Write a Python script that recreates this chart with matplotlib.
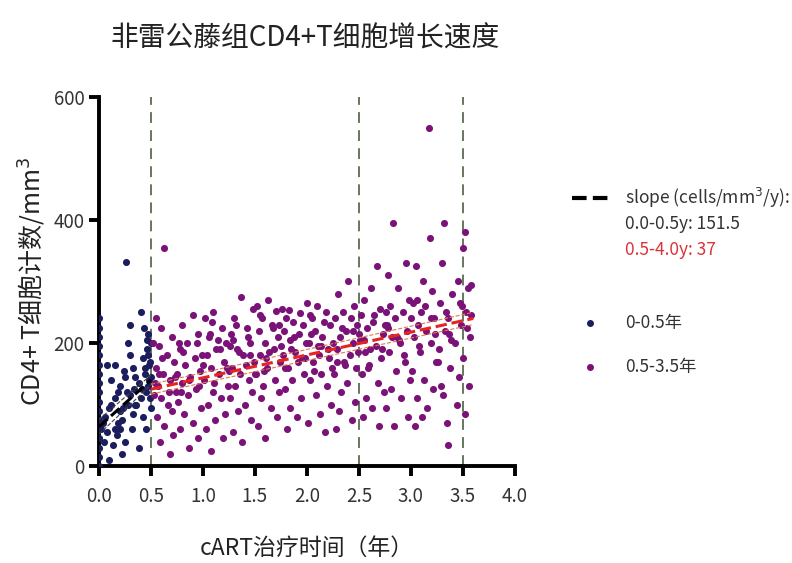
#!/usr/bin/env python3
# plot.py - CD4+ T cell growth scatter with segmented slopes

import matplotlib
matplotlib.use("Agg")
import matplotlib.pyplot as plt
from matplotlib.lines import Line2D
import numpy as np

plt.rcParams["font.family"] = ["Noto Sans CJK SC", "DejaVu Sans"]

# 0-0.5 year group (x = years on cART, y = CD4+ count)
early_x = [0, 0, 0, 0, 0, 0, 0, 0, 0, 0, 0, 0, 0, 0, 0, 0, 0,
           0.02, 0.04, 0.06, 0.08, 0.10, 0.12, 0.12, 0.15, 0.15, 0.17,
           0.18, 0.20, 0.20, 0.22, 0.22, 0.24, 0.25, 0.26, 0.28, 0.28,
           0.30, 0.30, 0.32, 0.33, 0.35, 0.35, 0.38, 0.40, 0.40, 0.42,
           0.42, 0.44, 0.45, 0.46, 0.47, 0.48, 0.48, 0.50, 0.50, 0.50,
           0.45, 0.38, 0.10, 0.05, 0.15, 0.25, 0.43, 0.30, 0.36, 0.20,
           0.23, 0.47, 0.49, 0.33, 0.08, 0.27, 0.46, 0.44, 0.41, 0.18,
           0.13, 0.34, 0.49, 0.47]
early_y = [0, 15, 30, 45, 60, 75, 90, 105, 120, 135, 150, 165, 180, 195,
           210, 225, 240,
           60, 70, 80, 165, 95, 100, 140, 110, 60, 50,
           120, 90, 130, 75, 20, 155, 40, 332, 100, 200,
           115, 230, 60, 160, 145, 100, 135, 250, 110, 80,
           175, 150, 120, 190, 130, 165, 140, 145, 95, 200,
           60, 30, 10, 40, 165, 145, 225, 180, 100, 60,
           95, 215, 170, 85, 55, 120, 205, 160, 125, 70,
           35, 125, 110, 180]

# 0.5-3.5 year group
late_x = [0.63, 0.55, 0.60, 0.70, 0.58, 0.65, 0.72, 0.55, 0.62, 0.68,
          0.57, 0.74, 0.60, 0.66, 0.70, 0.56, 0.63, 0.71, 0.59, 0.68,
          0.52, 0.73, 0.53,
          0.90, 0.80, 0.95, 0.85, 0.78, 0.92, 0.83, 0.97, 0.88, 0.80,
          0.93, 0.86, 0.76, 0.98, 0.82, 0.90, 0.78, 0.95, 0.87, 0.99, 0.79,
          1.10, 1.02, 1.18, 1.06, 1.22, 1.13, 1.04, 1.20, 1.08, 1.15,
          1.01, 1.24, 1.10, 1.17, 1.05, 1.21, 1.12, 1.03, 1.19, 1.08,
          1.23, 1.14,
          1.37, 1.48, 1.30, 1.42, 1.27, 1.45, 1.33, 1.39, 1.49, 1.28,
          1.36, 1.44, 1.31, 1.47, 1.26, 1.40, 1.34, 1.46, 1.29, 1.38,
          1.41, 1.26,
          1.63, 1.52, 1.70, 1.57, 1.66, 1.54, 1.72, 1.60, 1.68, 1.55,
          1.74, 1.62, 1.51, 1.69, 1.58, 1.73, 1.56, 1.65, 1.71, 1.53,
          1.60, 1.64,
          1.76, 1.83, 1.93, 1.80, 1.96, 1.78, 1.88, 1.99, 1.85, 1.77,
          1.91, 1.82, 1.97, 1.86, 1.79, 1.94, 1.84, 1.90, 1.81, 1.92, 1.98,
          2.00, 2.10, 2.18, 2.05, 2.22, 2.08, 2.15, 2.02, 2.20, 2.12,
          2.06, 2.24, 2.14, 2.03, 2.19, 2.09, 2.23, 2.13, 2.01, 2.17, 2.11,
          2.40, 2.30, 2.45, 2.35, 2.27, 2.48, 2.38, 2.32, 2.44, 2.29,
          2.41, 2.36, 2.47, 2.26, 2.39, 2.33, 2.46, 2.31, 2.43, 2.28, 2.50,
          2.67, 2.62, 2.55, 2.70, 2.52, 2.64, 2.58, 2.73, 2.51, 2.66,
          2.56, 2.71, 2.60, 2.53, 2.68, 2.74, 2.57, 2.63, 2.54, 2.69, 2.75,
          2.83, 2.95, 2.78, 2.88, 2.98, 2.80, 2.92, 2.85, 2.77, 2.96,
          2.82, 2.90, 2.79, 2.94, 2.86, 2.99, 2.81, 2.91, 2.76, 2.97, 2.84,
          3.17, 3.18, 3.05, 3.12, 3.20, 3.02, 3.10, 3.22, 3.07, 3.15,
          3.03, 3.19, 3.09, 3.24, 3.01, 3.13, 3.21, 3.06, 3.16, 3.11, 3.04,
          3.32, 3.52, 3.50, 3.30, 3.45, 3.55, 3.40, 3.28, 3.53, 3.36,
          3.48, 3.33, 3.57, 3.42, 3.27, 3.50, 3.38, 3.46, 3.56, 3.31,
          3.44, 3.52, 3.35, 3.36, 3.29, 3.58,
          # extra points packed near the trend
          0.54, 0.61, 0.67, 0.75, 0.81, 0.87, 0.94, 1.00, 1.07, 1.11,
          1.16, 1.25, 1.32, 1.35, 1.43, 1.50, 1.55, 1.61, 1.67, 1.75,
          1.79, 1.87, 1.89, 1.95, 2.04, 2.07, 2.16, 2.21, 2.25, 2.34,
          2.37, 2.42, 2.49, 2.55, 2.59, 2.65, 2.72, 2.78, 2.87, 2.93,
          3.00, 3.08, 3.14, 3.23, 3.26, 3.34, 3.39, 3.47, 3.54, 3.58,
          0.58, 0.77, 0.96, 1.09, 1.29, 1.45, 1.59, 1.73, 1.84, 2.03,
          2.14, 2.29, 2.44, 2.61, 2.76, 2.89, 3.06, 3.19, 3.37, 3.49]
late_y = [355, 240, 225, 210, 195, 180, 170, 160, 150, 140,
          130, 120, 110, 100, 90, 80, 65, 50, 40, 20,
          200, 145, 115,
          245, 230, 215, 200, 190, 175, 165, 155, 145, 135,
          125, 115, 105, 95, 85, 70, 60, 45, 30, 180, 120,
          250, 240, 225, 210, 200, 190, 180, 170, 160, 150,
          140, 130, 120, 110, 100, 85, 75, 60, 45, 25,
          160, 205,
          275, 255, 240, 225, 215, 200, 190, 180, 170, 160,
          150, 140, 130, 120, 110, 100, 90, 75, 55, 40,
          165, 195,
          270, 260, 252, 240, 230, 220, 210, 200, 190, 180,
          170, 160, 150, 140, 130, 120, 110, 95, 80, 65,
          45, 185,
          255, 254, 249, 240, 230, 220, 210, 200, 190, 180,
          170, 160, 150, 140, 125, 110, 95, 80, 60, 215, 175,
          265, 260, 250, 240, 230, 220, 210, 200, 190, 180,
          170, 160, 150, 140, 130, 115, 100, 85, 70, 55, 195,
          300, 280, 260, 250, 240, 230, 220, 210, 200, 190,
          180, 170, 160, 150, 135, 120, 105, 90, 75, 60, 215,
          325, 290, 270, 255, 245, 235, 225, 215, 205, 195,
          185, 175, 165, 150, 135, 120, 110, 95, 80, 65, 230,
          395, 330, 310, 290, 270, 260, 250, 240, 230, 220,
          210, 200, 185, 170, 155, 140, 125, 110, 95, 80, 65,
          550, 370, 325, 300, 285, 265, 250, 240, 230, 220,
          210, 200, 185, 170, 155, 140, 125, 110, 95, 80, 65,
          395, 380, 355, 330, 300, 290, 280, 265, 250, 240,
          230, 220, 210, 200, 190, 175, 160, 145, 130, 115,
          100, 85, 70, 35, 130, 295,
          135, 175, 120, 150, 185, 140, 200, 165, 215, 135,
          190, 155, 230, 185, 210, 150, 245, 175, 225, 195,
          160, 235, 185, 175, 215, 155, 235, 175, 200, 225,
          165, 240, 185, 205, 160, 245, 190, 225, 210, 180,
          240, 195, 260, 215, 170, 250, 205, 265, 225, 245,
          150, 200, 130, 235, 205, 180, 155, 230, 205, 245,
          195, 170, 220, 190, 250, 205, 270, 240, 215, 260]

# fitted segments and vertical cut-offs
seg1_x = [0.0, 0.5]
seg1_y = [64, 140]
seg2_x = [0.5, 3.6]
seg2_y = [125, 240]
cut_years = [0.5, 2.5, 3.5]

blue = "#1b1d5c"
purple = "#7a1277"


def plot(ax):
    ax.scatter(early_x, early_y, s=26, color=blue, zorder=3, linewidths=0)
    ax.scatter(late_x, late_y, s=26, color=purple, zorder=3, linewidths=0)

    for c in cut_years:
        ax.axvline(c, ymin=0, ymax=1, color="#5a6b52", linestyle=(0, (6, 4)),
                   linewidth=1.3, zorder=2)

    # confidence bands (thin dashed) and fitted lines
    ax.plot(seg1_x, [seg1_y[0] - 12, seg1_y[1] - 8], color="#444444",
            linestyle="--", linewidth=0.8, zorder=4)
    ax.plot(seg1_x, [seg1_y[0] + 12, seg1_y[1] + 8], color="#444444",
            linestyle="--", linewidth=0.8, zorder=4)
    ax.plot(seg1_x, seg1_y, color="black", linestyle="--", linewidth=2.2,
            zorder=5)
    ax.plot(seg2_x, [seg2_y[0] - 8, seg2_y[1] - 10], color="#e07a4a",
            linestyle="--", linewidth=0.8, zorder=4)
    ax.plot(seg2_x, [seg2_y[0] + 8, seg2_y[1] + 10], color="#e07a4a",
            linestyle="--", linewidth=0.8, zorder=4)
    ax.plot(seg2_x, seg2_y, color="#e8241e", linestyle="--", linewidth=2.2,
            zorder=5)

    ax.set_xlim(0, 4.0)
    ax.set_ylim(0, 600)
    ax.set_xticks(np.arange(0, 4.01, 0.5))
    ax.set_xticklabels([f"{v:.1f}" for v in np.arange(0, 4.01, 0.5)])
    ax.set_yticks([0, 200, 400, 600])
    for side in ["top", "right"]:
        ax.spines[side].set_visible(False)
    for side in ["left", "bottom"]:
        ax.spines[side].set_linewidth(2.8)
    ax.tick_params(width=2.8, length=7, labelsize=13.5, colors="#333333")
    ax.tick_params(axis="x", pad=7)
    ax.tick_params(color="black")
    ax.set_ylabel("CD4+ T细胞计数/mm$^3$", fontsize=18, color="#222222",
                  labelpad=4)
    ax.set_xlabel("cART治疗时间（年）", fontsize=16.5, color="#222222",
                  labelpad=22)


def main():
    fig = plt.figure(figsize=(7.92, 5.63), dpi=100)
    ax = fig.add_axes([0.125, 0.172, 0.525, 0.656])
    plot(ax)

    fig.text(0.385, 0.932, "非雷公藤组CD4+T细胞增长速度", ha="center",
             va="center", fontsize=20, color="#222222")

    # legend drawn by hand
    fig.add_artist(Line2D([0.722, 0.772], [0.649, 0.649], color="black",
                          linestyle=(0, (3.5, 1.5)), linewidth=3))
    fig.text(0.789, 0.649, "slope (cells/mm$^3$/y):", fontsize=12.5,
             va="center", color="#333333")
    fig.text(0.789, 0.603, "0.0-0.5y: 151.5", fontsize=12.5, va="center",
             color="#333333")
    fig.text(0.789, 0.556, "0.5-4.0y: 37", fontsize=12.5, va="center",
             color="#d9343a")
    fig.add_artist(Line2D([0.745], [0.426], marker="o", markersize=4,
                          color=blue, linestyle="none"))
    fig.text(0.789, 0.426, "0-0.5年", fontsize=12.5, va="center",
             color="#333333")
    fig.add_artist(Line2D([0.745], [0.348], marker="o", markersize=4,
                          color=purple, linestyle="none"))
    fig.text(0.789, 0.348, "0.5-3.5年", fontsize=12.5, va="center",
             color="#333333")

    fig.savefig("out.png", dpi=100)


if __name__ == "__main__":
    main()
